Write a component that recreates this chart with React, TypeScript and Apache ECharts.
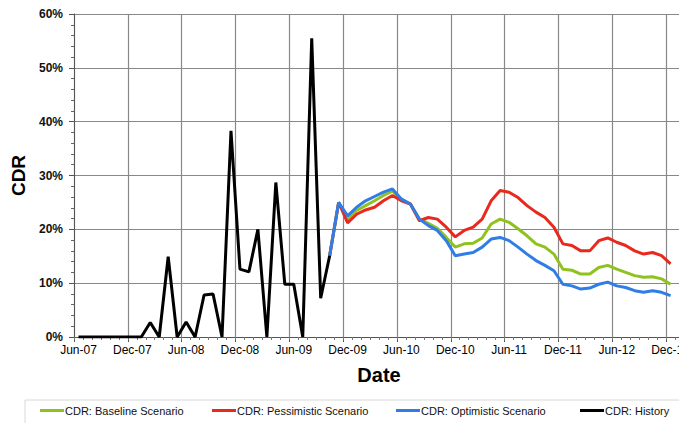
import React, { useEffect, useRef } from "react";
import * as echarts from "echarts";

const monthAbbr = ["Jan", "Feb", "Mar", "Apr", "May", "Jun", "Jul", "Aug", "Sep", "Oct", "Nov", "Dec"];
const startYear = 2007;
const startMonth = 5; // Jun
const monthCount = 68; // Jun-07 .. Jan-13
const categories: string[] = Array.from({ length: monthCount }, (_, i) => {
  const m = startMonth + i;
  const y = startYear + Math.floor(m / 12);
  return monthAbbr[m % 12] + "-" + String(y % 100).padStart(2, "0");
});

const historyStart = 0;
const historyValues = [
  0, 0, 0, 0, 0, 0, 0, 0, 2.7, 0, 14.9, 0, 2.8, 0, 7.8, 8.0, 0, 38.3, 12.6, 12.1,
  20.0, 0, 28.7, 9.8, 9.8, 0, 55.5, 7.2, 15.1,
];

const forecastStart = 28;
const baselineValues = [
  15.1, 25.0, 21.9, 23.5, 24.4, 25.3, 26.3, 27.1, 25.6, 24.7, 21.9, 21.1, 20.2, 18.5, 16.7, 17.3,
  17.4, 18.4, 21.0, 21.9, 21.3, 20.1, 18.8, 17.3, 16.7, 15.4, 12.6, 12.4, 11.7, 11.7, 12.9, 13.3,
  12.6, 12.0, 11.4, 11.1, 11.2, 10.8, 9.8,
];
const pessimisticValues = [
  15.1, 25.0, 21.2, 22.8, 23.6, 24.1, 25.3, 26.3, 25.3, 24.7, 21.6, 22.2, 21.9, 20.4, 18.6, 19.8,
  20.4, 21.9, 25.3, 27.2, 26.9, 25.9, 24.4, 23.2, 22.2, 20.4, 17.3, 17.0, 16.0, 16.0, 17.9, 18.4,
  17.6, 17.0, 16.0, 15.4, 15.7, 15.1, 13.6,
];
const optimisticValues = [
  15.1, 25.0, 22.5, 24.1, 25.3, 26.1, 26.9, 27.5, 25.6, 24.7, 21.9, 20.7, 19.8, 17.9, 15.1, 15.4,
  15.7, 16.7, 18.2, 18.5, 17.9, 16.7, 15.4, 14.2, 13.3, 12.3, 9.8, 9.5, 8.9, 9.1, 9.8, 10.2,
  9.5, 9.2, 8.6, 8.3, 8.6, 8.3, 7.7,
];

const seriesNames = [
  "CDR: Baseline Scenario",
  "CDR: Pessimistic Scenario",
  "CDR: Optimistic Scenario",
  "CDR: History",
];
const seriesColors = ["#8FC21E", "#E8291D", "#2F7DE5", "#000000"];
const legendLefts = [40, 212, 396, 580];

const yTicks = [0, 10, 20, 30, 40, 50, 60];

function place(start: number, arr: number[]) {
  return categories.map((_, i) => (i >= start && i - start < arr.length ? arr[i - start] : null));
}

const FONT = "'Liberation Sans', Arial, Helvetica, sans-serif";

export default function App() {
  const ref = useRef<HTMLDivElement>(null);
  useEffect(() => {
    document.body.style.margin = "0";
    if (!ref.current) return;
    const chart = echarts.init(ref.current, null, { renderer: "svg" });
    const seriesData = [
      place(forecastStart, baselineValues),
      place(forecastStart, pessimisticValues),
      place(forecastStart, optimisticValues),
      place(historyStart, historyValues),
    ];
    chart.setOption({
      animation: false,
      backgroundColor: "#ffffff",
      textStyle: { fontFamily: FONT },
      grid: {
        left: 74,
        top: 14,
        width: 610,
        height: 323,
        containLabel: false,
        outerBoundsMode: "none",
      },
      legend: seriesNames.map((n, k) => ({
        data: [n],
        left: legendLefts[k],
        top: 405,
        padding: 0,
        icon: "rect",
        itemWidth: 24,
        itemHeight: 3,
        textStyle: { fontFamily: FONT, fontSize: 11, color: "#111", padding: [0, 0, 0, -4] },
      })),
      graphic: [
        {
          type: "rect",
          shape: { x: 25, y: 400, width: 700, height: 40 },
          style: { fill: "none", stroke: "#d8d8d8", lineWidth: 1 },
          z: -1,
        },
      ],
      xAxis: [
        {
          type: "category",
          data: categories,
          boundaryGap: true,
          position: "bottom",
          name: "Date",
          nameLocation: "middle",
          nameGap: 28,
          nameTextStyle: { fontFamily: FONT, fontSize: 20, fontWeight: "bold", color: "#000" },
          axisLine: { show: true, lineStyle: { color: "#555", width: 1 } },
          axisTick: { show: true, interval: 5, length: 5, lineStyle: { color: "#555" } },
          axisLabel: {
            interval: 5,
            margin: 7,
            fontFamily: FONT,
            fontSize: 12,
            color: "#000",
            hideOverlap: false,
          },
          splitLine: { show: true, interval: 5, lineStyle: { color: "#888", width: 1.2 } },
        },
        {
          type: "category",
          data: categories,
          boundaryGap: true,
          position: "bottom",
          axisLine: { show: false },
          axisTick: { show: true, interval: 0, length: 3, lineStyle: { color: "#777" } },
          axisLabel: { show: false },
          splitLine: { show: false },
        },
      ],
      yAxis: {
        type: "value",
        min: yTicks[0],
        max: yTicks[yTicks.length - 1],
        interval: 10,
        name: "CDR",
        nameLocation: "middle",
        nameGap: 42,
        nameTextStyle: { fontFamily: FONT, fontSize: 19, fontWeight: "bold", color: "#000" },
        axisLine: { show: true, lineStyle: { color: "#555", width: 1 } },
        axisTick: { show: true, length: 5, lineStyle: { color: "#555" } },
        minorTick: { show: true, splitNumber: 5, length: 3, lineStyle: { color: "#666" } },
        axisLabel: {
          margin: 11,
          fontFamily: FONT,
          fontSize: 12,
          fontWeight: "bold",
          color: "#111",
          formatter: (v: number) => v + "%",
        },
        splitLine: { show: true, lineStyle: { color: "#888", width: 1.2 } },
      },
      series: seriesNames.map((n, k) => ({
        name: n,
        type: "line",
        xAxisIndex: 0,
        data: seriesData[k],
        showSymbol: false,
        symbol: "none",
        connectNulls: false,
        color: seriesColors[k],
        lineStyle: { color: seriesColors[k], width: 3 },
        itemStyle: { color: seriesColors[k] },
        emphasis: { disabled: true },
      })),
    });
    return () => chart.dispose();
  }, []);
  return <div ref={ref} style={{ width: 679, height: 423 }} />;
}
